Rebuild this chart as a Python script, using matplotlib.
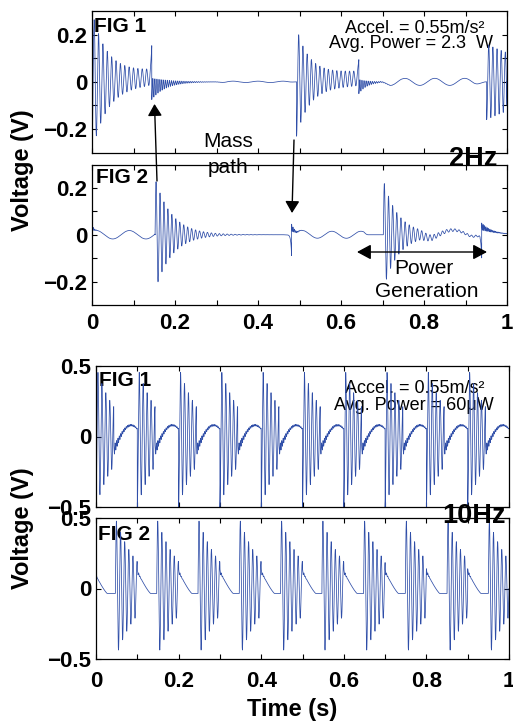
import numpy as np
import matplotlib
matplotlib.use('Agg')
import matplotlib.pyplot as plt
from matplotlib.patches import FancyArrowPatch

plt.rcParams['font.family'] = ['Liberation Sans', 'DejaVu Sans']

W, H = 513, 724
LINE_COLOR = '#2f4ea8'
t = np.linspace(0, 1, 40001)

# ------------------------------------------------------------------
# Values (event tables of the voltage traces)
# ------------------------------------------------------------------
# 2 Hz, FIG 1 : damped bursts
hz2_f1_burst_start = [0.0, 0.493, 0.951]
hz2_f1_burst_end = [0.144, 0.643, 1.0]
hz2_f1_burst_amp = [0.27, 0.20, 0.13]
hz2_f1_burst_tau = [0.035, 0.03, 0.15]
hz2_f1_burst_floor = [0.03, 0.03, 0.03]
hz2_f1_burst_freq = [95, 98, 100]
hz2_f1_burst_drift = [0.02, 0.015, 0.0]
hz2_f1_burst_phase = [-np.pi / 2, -np.pi / 2, -np.pi / 2]
# 2 Hz, FIG 1 : impact spikes + ringing
hz2_f1_spike_t = [0.144, 0.643]
hz2_f1_spike_peak = [0.12, 0.07]
hz2_f1_spike_width = [0.0015, 0.0015]
hz2_f1_spike_offset = [-0.03, -0.02]
hz2_f1_spike_offset_tau = [0.03, 0.02]
hz2_f1_spike_ring = [-0.045, -0.03]
hz2_f1_spike_ring_tau = [0.035, 0.02]
hz2_f1_spike_ring_freq = [200, 200]
# 2 Hz, FIG 1 : slow waves
hz2_f1_wave_start = [0.30, 0.69]
hz2_f1_wave_end = [0.49, 0.948]
hz2_f1_wave_amp = [0.003, 0.015]
hz2_f1_wave_period = [0.06, 0.072]
hz2_f1_wave_peak = [0.40, 0.754]
hz2_f1_wave_ramp = [0.02, 0.03]

# 2 Hz, FIG 2
hz2_f2_burst_start = [0.152, 0.702]
hz2_f2_burst_end = [0.475, 0.935]
hz2_f2_burst_amp = [0.24, 0.23]
hz2_f2_burst_tau = [0.04, 0.035]
hz2_f2_burst_floor = [0.0, 0.004]
hz2_f2_burst_freq = [105, 100]
hz2_f2_burst_drift = [0.0, 0.0]
hz2_f2_burst_phase = [0.0, 0.0]
hz2_f2_spike_t = [0.0, 0.481, 0.939]
hz2_f2_spike_peak = [0.0, -0.09, -0.10]
hz2_f2_spike_width = [0.002, 0.002, 0.002]
hz2_f2_spike_offset = [0.02, 0.03, 0.035]
hz2_f2_spike_offset_tau = [0.004, 0.012, 0.03]
hz2_f2_spike_ring = [0.015, 0.015, 0.015]
hz2_f2_spike_ring_tau = [0.004, 0.008, 0.02]
hz2_f2_spike_ring_freq = [300, 300, 300]
hz2_f2_wave_start = [0.0, 0.49, 0.79]
hz2_f2_wave_end = [0.152, 0.665, 0.936]
hz2_f2_wave_amp = [0.018, 0.015, 0.02]
hz2_f2_wave_period = [0.08, 0.07, 0.14]
hz2_f2_wave_peak = [0.09, 0.578, 0.87]
hz2_f2_wave_ramp = [0.0, 0.01, 0.03]

# 10 Hz, FIG 1 : one cycle per onset
hz10_f1_onset = [0.0, 0.1, 0.2, 0.3, 0.4, 0.5, 0.6, 0.7, 0.8, 0.9]
hz10_f1_burst_len = 0.043
hz10_f1_burst_amp = 0.5
hz10_f1_burst_tau = 0.05
hz10_f1_burst_freq = 105
hz10_f1_arc_low = -0.10
hz10_f1_arc_height = 0.18
hz10_f1_arc_halfperiod = 0.084
hz10_f1_ripple_amp = 0.035
hz10_f1_ripple_tau = 0.015
hz10_f1_ripple_freq = 300

# 10 Hz, FIG 2
hz10_f2_spike_t = [-0.005, 0.1, 0.2, 0.3, 0.4, 0.5, 0.6, 0.7, 0.8, 0.9]
hz10_f2_burst_t = [0.047, 0.147, 0.247, 0.347, 0.447, 0.547, 0.648, 0.749, 0.85, 0.95]
hz10_f2_spike_high = 0.12
hz10_f2_spike_low = -0.035
hz10_f2_decline_len = 0.032
hz10_f2_burst_amp = 0.5
hz10_f2_burst_tau = 0.055
hz10_f2_burst_freq = 100
hz10_f2_ripple_amp = 0.02
hz10_f2_ripple_tau = 0.004
hz10_f2_ripple_freq = 300


# ------------------------------------------------------------------
def burst_sum(t, starts, ends, amps, taus, floors, freqs, drifts, phases):
    v = np.zeros_like(t)
    for t0, t1, a, tau, fl, f, d, ph in zip(starts, ends, amps, taus, floors,
                                            freqs, drifts, phases):
        m = (t >= t0) & (t < t1)
        s = t[m] - t0
        env = a * np.exp(-s / tau) + fl
        v[m] += env * np.sin(2 * np.pi * f * s + ph) + d * s / (t1 - t0)
    return v


def spike_sum(t, times, peaks, widths, offs, off_taus, rings, ring_taus, ring_freqs):
    v = np.zeros_like(t)
    for ts, p, w, o, to, r, tr, fr in zip(times, peaks, widths, offs, off_taus,
                                          rings, ring_taus, ring_freqs):
        pre = (t < ts) & (t > ts - 10 * w)
        v[pre] += p * np.exp((t[pre] - ts) / w)
        post = (t >= ts) & (t < ts + 0.3)
        s = t[post] - ts
        v[post] += o * np.exp(-s / to) + r * np.exp(-s / tr) * np.cos(2 * np.pi * fr * s)
    return v


def wave_sum(t, starts, ends, amps, periods, peaks, ramps):
    v = np.zeros_like(t)
    for a, b, A, per, pk, rw in zip(starts, ends, amps, periods, peaks, ramps):
        m = (t >= a) & (t < b)
        tt = t[m]
        if rw > 0:
            ramp = np.clip(np.minimum(tt - a, b - tt) / rw, 0, 1)
            if a == 0:
                ramp = np.clip((b - tt) / rw, 0, 1)
        else:
            ramp = 1.0
        v[m] += A * np.cos(2 * np.pi * (tt - pk) / per) * ramp
    return v


v_2hz_f1 = (burst_sum(t, hz2_f1_burst_start, hz2_f1_burst_end, hz2_f1_burst_amp,
                      hz2_f1_burst_tau, hz2_f1_burst_floor, hz2_f1_burst_freq,
                      hz2_f1_burst_drift, hz2_f1_burst_phase)
            + spike_sum(t, hz2_f1_spike_t, hz2_f1_spike_peak, hz2_f1_spike_width,
                        hz2_f1_spike_offset, hz2_f1_spike_offset_tau, hz2_f1_spike_ring,
                        hz2_f1_spike_ring_tau, hz2_f1_spike_ring_freq)
            + wave_sum(t, hz2_f1_wave_start, hz2_f1_wave_end, hz2_f1_wave_amp,
                       hz2_f1_wave_period, hz2_f1_wave_peak, hz2_f1_wave_ramp))

v_2hz_f2 = (burst_sum(t, hz2_f2_burst_start, hz2_f2_burst_end, hz2_f2_burst_amp,
                      hz2_f2_burst_tau, hz2_f2_burst_floor, hz2_f2_burst_freq,
                      hz2_f2_burst_drift, hz2_f2_burst_phase)
            + spike_sum(t, hz2_f2_spike_t, hz2_f2_spike_peak, hz2_f2_spike_width,
                        hz2_f2_spike_offset, hz2_f2_spike_offset_tau, hz2_f2_spike_ring,
                        hz2_f2_spike_ring_tau, hz2_f2_spike_ring_freq)
            + wave_sum(t, hz2_f2_wave_start, hz2_f2_wave_end, hz2_f2_wave_amp,
                       hz2_f2_wave_period, hz2_f2_wave_peak, hz2_f2_wave_ramp))

# 10 Hz FIG 1
v_10hz_f1 = np.zeros_like(t)
onsets = list(hz10_f1_onset) + [1.0001]
for k in range(len(hz10_f1_onset)):
    t0, t1 = onsets[k], onsets[k + 1]
    mb = (t >= t0) & (t < t0 + hz10_f1_burst_len)
    s = t[mb] - t0
    v_10hz_f1[mb] = -hz10_f1_burst_amp * np.exp(-s / hz10_f1_burst_tau) * \
        np.cos(2 * np.pi * hz10_f1_burst_freq * s)
    ma = (t >= t0 + hz10_f1_burst_len) & (t < t1)
    s = t[ma] - t0 - hz10_f1_burst_len
    arc = hz10_f1_arc_low + hz10_f1_arc_height * np.sin(np.pi * s / hz10_f1_arc_halfperiod)
    rip = (hz10_f1_ripple_amp * np.exp(-s / hz10_f1_ripple_tau) + 0.004) * \
        np.cos(2 * np.pi * hz10_f1_ripple_freq * s)
    v_10hz_f1[ma] = arc + rip

# 10 Hz FIG 2
v_10hz_f2 = np.zeros_like(t)
spk = list(hz10_f2_spike_t) + [1.0001]
for k in range(len(hz10_f2_spike_t)):
    ts, tb, tn = spk[k], hz10_f2_burst_t[k], spk[k + 1]
    md = (t >= max(ts, 0)) & (t < tb)
    s = t[md] - ts
    frac = np.clip(1 - s / hz10_f2_decline_len, 0, 1) ** 1.2
    v_10hz_f2[md] = hz10_f2_spike_low + (hz10_f2_spike_high - hz10_f2_spike_low) * frac + \
        hz10_f2_ripple_amp * np.exp(-s / hz10_f2_ripple_tau) * \
        np.cos(2 * np.pi * hz10_f2_ripple_freq * s)
    mb = (t >= tb) & (t < tn)
    s = t[mb] - tb
    v_10hz_f2[mb] = hz10_f2_burst_amp * np.exp(-s / hz10_f2_burst_tau) * \
        np.sin(2 * np.pi * hz10_f2_burst_freq * s)

# ------------------------------------------------------------------
fig = plt.figure(figsize=(W / 100, H / 100), dpi=100)


def P(x, y):
    return (x / W, 1 - y / H)


def make_ax(x0, y0, x1, y1):
    return fig.add_axes([x0 / W, 1 - y1 / H, (x1 - x0) / W, (y1 - y0) / H])


ax1 = make_ax(92, 11, 507, 152.7)
ax2 = make_ax(92, 164.5, 507, 305)
ax3 = make_ax(96, 366, 509, 507)
ax4 = make_ax(96, 518, 509, 659)

xt = np.round(np.arange(0, 1.001, 0.1), 1)
xl = ['0', '', '0.2', '', '0.4', '', '0.6', '', '0.8', '', '1']

for ax, v in [(ax1, v_2hz_f1), (ax2, v_2hz_f2), (ax3, v_10hz_f1), (ax4, v_10hz_f2)]:
    ax.plot(t, v, color=LINE_COLOR, lw=0.55, zorder=2)
    ax.set_xlim(0, 1)
    ax.set_xticks(xt)
    ax.set_xticklabels(xl, fontweight='bold', fontsize=16)
    ax.tick_params(direction='in', top=True, right=True, length=3.5, width=0.8)
    ax.tick_params(axis='y', pad=3.6)
    for sp in ax.spines.values():
        sp.set_linewidth(0.9)

for ax in (ax1, ax2):
    ax.set_ylim(-0.3, 0.3)
    ax.set_yticks([-0.2, -0.1, 0, 0.1, 0.2])
    ax.set_yticklabels(['\u22120.2', '', '0', '', '0.2'], fontweight='bold', fontsize=16)
for ax in (ax3, ax4):
    ax.set_ylim(-0.5, 0.5)
    ax.set_yticks([-0.5, 0, 0.5])
    ax.set_yticklabels(['\u22120.5', '0', '0.5'], fontweight='bold', fontsize=16)

ax1.tick_params(axis='x', labelbottom=False)
ax3.tick_params(axis='x', labelbottom=False)
ax2.tick_params(axis='x', pad=5.8)
ax4.tick_params(axis='x', pad=8.6)

# panel labels (below the traces)
for ax, (x, y), s in [(ax1, (94, 17), 'FIG 1'), (ax2, (95.5, 168), 'FIG 2'),
                      (ax3, (99, 370.5), 'FIG 1'), (ax4, (98, 525), 'FIG 2')]:
    ax.text(*P(x, y), s, transform=fig.transFigure, ha='left', va='top',
            fontsize=15, fontweight='bold', zorder=1)

# annotations
ax1.text(*P(415, 33.3), 'Accel. = 0.55m/s\u00b2', transform=fig.transFigure,
         ha='center', va='baseline', fontsize=13, zorder=1)
ax1.text(*P(411, 47.7), 'Avg. Power = 2.3  W', transform=fig.transFigure,
         ha='center', va='baseline', fontsize=13, zorder=1)
ax3.text(*P(415, 393), 'Accel. = 0.55m/s\u00b2', transform=fig.transFigure,
         ha='center', va='baseline', fontsize=13, zorder=1)
ax3.text(*P(413.5, 410), 'Avg. Power = 60\u03bcW', transform=fig.transFigure,
         ha='center', va='baseline', fontsize=13, zorder=1)

fig.text(*P(228, 147), 'Mass', ha='center', va='baseline', fontsize=15)
fig.text(*P(228, 173), 'path', ha='center', va='baseline', fontsize=15)
fig.text(*P(424, 274.3), 'Power', ha='center', va='baseline', fontsize=15)
fig.text(*P(426.7, 296.7), 'Generation', ha='center', va='baseline', fontsize=15)

fig.text(*P(473.5, 165.7), '2Hz', ha='center', va='baseline', fontsize=19.5,
         fontweight='bold')
fig.text(*P(474, 522.7), '10Hz', ha='center', va='baseline', fontsize=19.5,
         fontweight='bold')

fig.text(*P(23, 170), 'Voltage (V)', rotation=90, ha='center', va='center',
         fontsize=17, fontweight='bold')
fig.text(*P(23, 528), 'Voltage (V)', rotation=90, ha='center', va='center',
         fontsize=17, fontweight='bold')
fig.text(*P(292, 716), 'Time (s)', ha='center', va='baseline', fontsize=17,
         fontweight='bold')

# arrows
arr_style = '-|>,head_length=0.55,head_width=0.33'
for tail, head in [((157, 181), (154.5, 104)), ((294, 140), (292, 213))]:
    fig.add_artist(FancyArrowPatch(P(*tail), P(*head), transform=fig.transFigure,
                                   arrowstyle=arr_style, mutation_scale=13,
                                   color='black', lw=1.0, shrinkA=0, shrinkB=0,
                                   zorder=5))
fig.add_artist(FancyArrowPatch(P(357, 252), P(487, 252), transform=fig.transFigure,
                               arrowstyle='<|-|>,head_length=0.65,head_width=0.35',
                               mutation_scale=13, color='black', lw=1.0,
                               shrinkA=0, shrinkB=0, zorder=5))

fig.savefig('out.png', dpi=100)
